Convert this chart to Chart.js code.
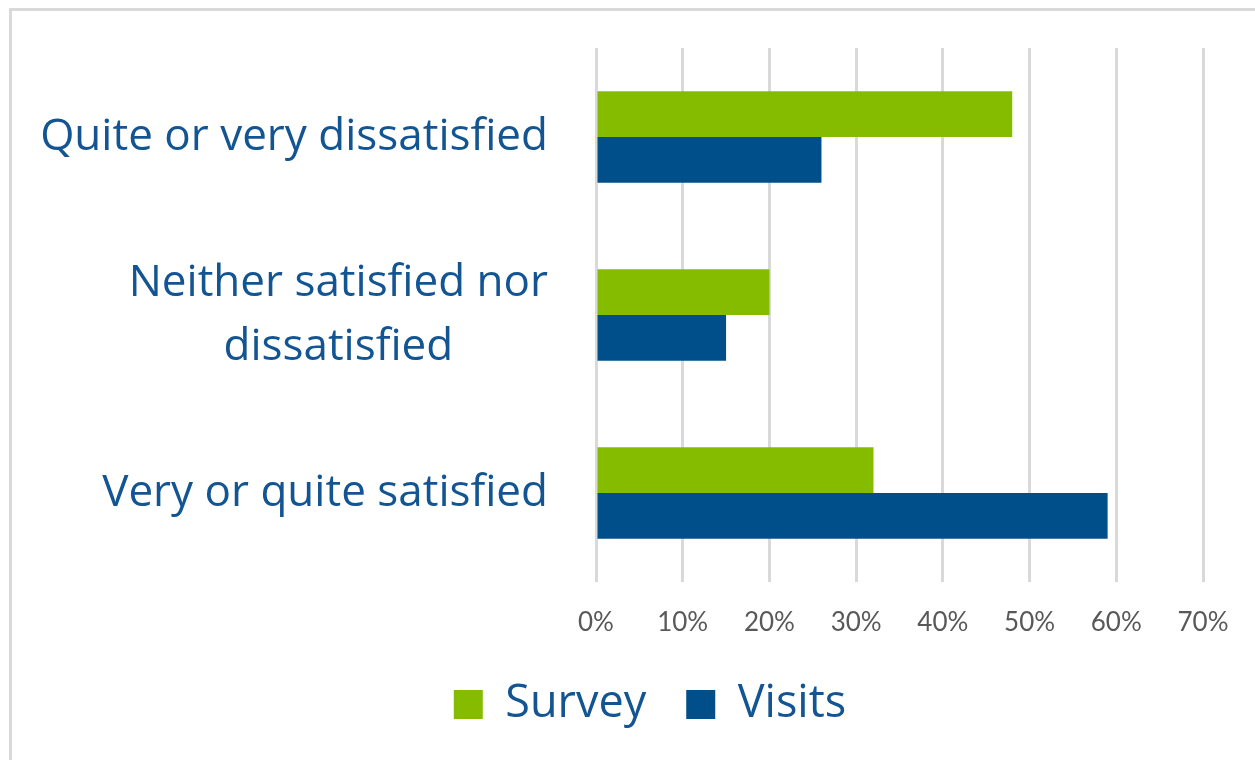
<!DOCTYPE html>
<html>
<head>
<meta charset="utf-8">
<script src="https://cdn.jsdelivr.net/npm/chart.js@4.4.1/dist/chart.umd.min.js"></script>
<style>
  html, body { margin: 0; padding: 0; background: #fff; overflow: hidden; }
  #frame {
    position: absolute; left: 9px; top: 8px; width: 1400px; height: 900px;
    border: 3px solid #d9d9d9; box-sizing: border-box;
  }
  #wrap { position: absolute; left: 0; top: 0; width: 1255px; height: 760px; }
</style>
</head>
<body>
<div id="frame"></div>
<div id="wrap"><canvas id="chart"></canvas></div>
<script>
// categories (top to bottom)
const categories = [
  "Quite or very dissatisfied",
  ["Neither satisfied nor", "dissatisfied"],
  "Very or quite satisfied",
];
// values in %
const surveyValues = [48, 20, 32];
const visitsValues = [26, 15, 59];
const tickLabels = ["0%", "10%", "20%", "30%", "40%", "50%", "60%", "70%"];

const GREEN = "#86bc00";
const BLUE = "#004f8b";
const LABEL_BLUE = "#135592";
const LABEL_FONT = "'Open Sans', sans-serif";

// category labels: block right aligned, lines centered inside block
const catLabels = {
  id: "catLabels",
  afterDraw(chart) {
    const y = chart.scales.y;
    const ctx = chart.ctx;
    ctx.save();
    ctx.font = "44px " + LABEL_FONT;
    ctx.fillStyle = LABEL_BLUE;
    ctx.textAlign = "center";
    ctx.textBaseline = "middle";
    const right = y.right - 48;
    const lh = 64;
    categories.forEach((c, i) => {
      const lines = Array.isArray(c) ? c : [c];
      const w = Math.max(...lines.map(l => ctx.measureText(l).width));
      const cx = right - w / 2;
      const cy = y.getPixelForValue(i);
      lines.forEach((l, j) => {
        ctx.fillText(l, cx, cy + (j - (lines.length - 1) / 2) * lh);
      });
    });
    ctx.restore();
  }
};

new Chart(document.getElementById("chart"), {
  type: "bar",
  data: {
    labels: categories,
    datasets: [
      { label: "Survey", data: surveyValues, backgroundColor: GREEN },
      { label: "Visits", data: visitsValues, backgroundColor: BLUE },
    ],
  },
  options: {
    indexAxis: "y",
    responsive: true,
    maintainAspectRatio: false,
    animation: false,
    categoryPercentage: 0.514,
    barPercentage: 1,
    // left padding only shifts the legend; y width is reduced to match
    layout: { padding: { top: 48, right: 52, left: 97, bottom: 23 } },
    scales: {
      x: {
        min: 0, max: 70,
        ticks: {
          stepSize: 10,
          color: "#595959",
          font: { family: "Lato, sans-serif", size: 26 },
          padding: 25,
          callback: (v, i) => tickLabels[i],
        },
        grid: { color: "#d9d9d9", lineWidth: 3, drawTicks: false },
        border: { display: false },
        afterFit: s => { s.height = 60; },
      },
      y: {
        ticks: { display: false },
        grid: { display: false },
        border: { display: false },
        afterFit: s => { s.width = 596 - 97; },
      },
    },
    plugins: {
      legend: {
        position: "bottom",
        labels: {
          boxWidth: 29, boxHeight: 29, padding: 40,
          color: LABEL_BLUE,
          font: { family: LABEL_FONT, size: 45 },
        },
      },
      tooltip: { enabled: false },
    },
  },
  plugins: [catLabels],
});
</script>
</body>
</html>
